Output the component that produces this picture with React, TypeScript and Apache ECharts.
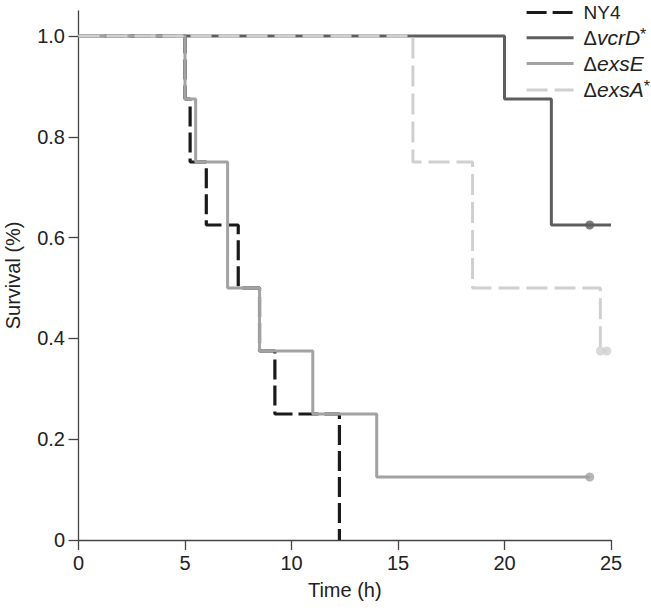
import React, { useEffect, useRef } from "react";
import * as echarts from "echarts";

// Kaplan–Meier survival data (time in h, survival fraction after each event)
const ny4Times = [0, 5, 5.24, 6, 7.5, 8.5, 9.22, 12.25];
const ny4Surv = [1, 0.875, 0.75, 0.625, 0.5, 0.375, 0.25, 0];

const vcrDTimes = [0, 20, 22.2, 25];
const vcrDSurv = [1, 0.875, 0.625, 0.625];

const exsETimes = [0, 5, 5.5, 7, 8.5, 11, 14, 24];
const exsESurv = [1, 0.875, 0.75, 0.5, 0.375, 0.25, 0.125, 0.125];

const exsATimes = [0, 15.7, 18.5, 24.5, 24.8];
const exsASurv = [1, 0.75, 0.5, 0.375, 0.375];

// censored observations
const vcrDCensorTimes = [24];
const vcrDCensorSurv = [0.625];
const exsECensorTimes = [24];
const exsECensorSurv = [0.125];
const exsACensorTimes = [24.5, 24.8];
const exsACensorSurv = [0.375, 0.375];

const yTicks = [0, 0.2, 0.4, 0.6, 0.8, 1.0];
const seriesNames = ["NY4", "ΔvcrD*", "ΔexsE", "ΔexsA*"];

const zip = (a: number[], b: number[]) => a.map((v, i) => [v, b[i]]);

const FONT = "'Liberation Sans', Arial, Helvetica, sans-serif";

export default function App() {
  const ref = useRef<HTMLDivElement>(null);
  useEffect(() => {
    if (!ref.current) return;
    const chart = echarts.init(ref.current, undefined, { renderer: "svg" });
    const colors = ["#1a1a1a", "#5e5e5e", "#a2a2a2", "#d0d0d0"];
    const dashes: any[] = [[20, 6], "solid", "solid", [21, 7]];
    const widths = [3.2, 3, 3, 3];
    const lineSeries = (i: number, t: number[], s: number[]) => ({
      name: seriesNames[i],
      type: "line",
      step: "end",
      data: zip(t, s),
      symbol: "none",
      lineStyle: { color: colors[i], width: widths[i], type: dashes[i], cap: "butt" },
      itemStyle: { color: colors[i] },
      z: 2,
    });
    const dots = (t: number[], s: number[], color: string) => ({
      type: "scatter",
      data: zip(t, s),
      symbol: "circle",
      symbolSize: 9,
      itemStyle: { color },
      z: 3,
    });
    const legendFmt = (name: string) => {
      if (name.startsWith("Δ")) {
        const rest = name.slice(1);
        const star = rest.endsWith("*");
        const core = star ? rest.slice(0, -1) : rest;
        return "{d|Δ}{i|" + core + "}" + (star ? "{s|*}" : "");
      }
      return "{n|" + name + "}";
    };
    chart.setOption({
      animation: false,
      backgroundColor: "#ffffff",
      grid: { left: 78.5, right: 40, top: 10.8, bottom: 71, outerBoundsMode: "none", containLabel: false },
      xAxis: {
        type: "value",
        min: 0,
        max: 25,
        interval: 5,
        name: "Time (h)",
        nameLocation: "middle",
        nameGap: 40,
        nameTextStyle: { fontFamily: FONT, fontSize: 20, color: "#222" },
        axisLine: { show: true, onZero: false, lineStyle: { color: "#444", width: 1.3 } },
        axisTick: { show: true, length: 10, lineStyle: { color: "#444", width: 1.3 } },
        axisLabel: { fontFamily: FONT, fontSize: 20, color: "#222", margin: 13 },
        splitLine: { show: false },
      },
      yAxis: {
        type: "value",
        min: 0,
        max: 1.05,
        name: "Survival (%)",
        nameLocation: "middle",
        nameGap: 56,
        nameTextStyle: { fontFamily: FONT, fontSize: 20, color: "#222" },
        axisLine: { show: true, onZero: false, lineStyle: { color: "#444", width: 1.3 } },
        axisTick: { show: true, length: 10, customValues: yTicks, lineStyle: { color: "#444", width: 1.3 } },
        axisLabel: {
          fontFamily: FONT,
          fontSize: 20,
          color: "#222",
          margin: 13.5,
          customValues: yTicks,
          formatter: (v: number) => (v === 0 ? "0" : v.toFixed(1)),
        },
        splitLine: { show: false },
      },
      legend: {
        data: seriesNames.map((n, i) => ({
          name: n,
          lineStyle: { color: colors[i], width: widths[i], type: dashes[i], cap: "butt" },
          itemStyle: { opacity: 0 },
        })),
        orient: "vertical",
        left: 525,
        top: 3,
        itemWidth: 47,
        itemHeight: 20,
        itemGap: 4.8,
        padding: 0,
        itemStyle: { opacity: 0 },
        formatter: legendFmt,
        textStyle: {
          fontFamily: FONT,
          color: "#222",
          padding: [0, 0, 0, 5],
          rich: {
            n: { fontFamily: FONT, fontSize: 19, color: "#222" },
            d: { fontFamily: FONT, fontSize: 20, color: "#222" },
            i: { fontFamily: FONT, fontSize: 21, fontStyle: "italic", color: "#222" },
            s: { fontFamily: FONT, fontSize: 16, color: "#222", verticalAlign: "top", padding: [0, 0, 6, 0] },
          },
        },
      },
      series: [
        lineSeries(0, ny4Times, ny4Surv),
        lineSeries(1, vcrDTimes, vcrDSurv),
        lineSeries(2, exsETimes, exsESurv),
        lineSeries(3, exsATimes, exsASurv),
        dots(vcrDCensorTimes, vcrDCensorSurv, colors[1]),
        dots(exsECensorTimes, exsECensorSurv, colors[2]),
        dots(exsACensorTimes, exsACensorSurv, colors[3]),
      ],
    });
    return () => chart.dispose();
  }, []);
  return (
    <div
      ref={ref}
      style={{ position: "fixed", left: 0, top: 0, width: 651, height: 611, background: "#fff" }}
    />
  );
}
